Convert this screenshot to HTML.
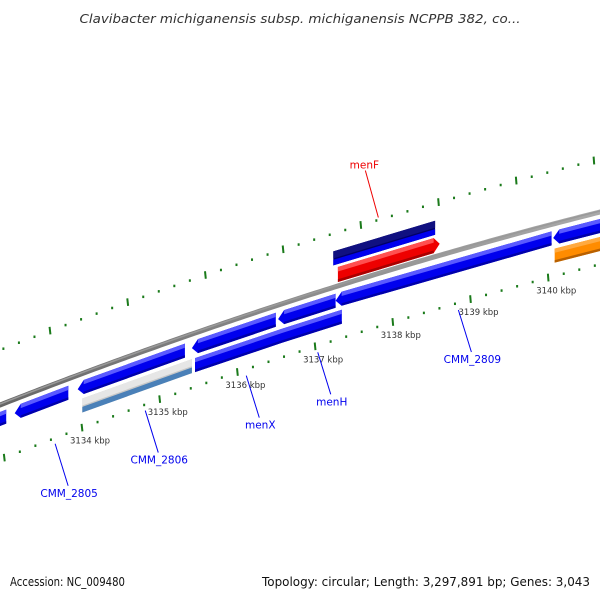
<!DOCTYPE html>
<html><head><meta charset="utf-8"><style>
html,body{margin:0;padding:0;background:#fff;}
svg{display:block;font-family:"DejaVu Sans","Liberation Sans",sans-serif;}
</style></head><body>
<svg id="map" width="600" height="600" viewBox="0 0 600 600" xmlns="http://www.w3.org/2000/svg">
<defs>
<linearGradient id="gray" x1="0" y1="0" x2="0" y2="1"><stop offset="0" stop-color="#aaa"/><stop offset="0.5" stop-color="#888"/><stop offset="1" stop-color="#666"/></linearGradient>
</defs>
<text x="300" y="23" text-anchor="middle" font-size="12.5" font-style="italic" fill="#333" textLength="441" lengthAdjust="spacingAndGlyphs">Clavibacter michiganensis subsp. michiganensis NCPPB 382, co...</text>
<g id="rulers"></g>
<g id="backbone"></g>
<g id="genes"></g>
<g id="labels"></g>
<text x="10" y="586" font-size="12" fill="#111" textLength="115" lengthAdjust="spacingAndGlyphs">Accession: NC_009480</text>
<text x="590" y="586" text-anchor="end" font-size="12" fill="#111" textLength="328" lengthAdjust="spacingAndGlyphs">Topology: circular; Length: 3,297,891 bp; Genes: 3,043</text>
</svg>
<script>
// data
const kbpTicks = [3133, 3134, 3135, 3136, 3137, 3138, 3139, 3140, 3141];
const kbpLabels = ["3133 kbp","3134 kbp","3135 kbp","3136 kbp","3137 kbp","3138 kbp","3139 kbp","3140 kbp","3141 kbp"];
const geneStart = [3132.9, 3133.34, 3134.15, 3135.62, 3136.73, 3137.47, 3140.27, 3134.21, 3135.66, 3136.78, 3140.29, 3137.50, 3137.44];
const geneEnd   = [3133.23, 3134.03, 3135.53, 3136.70, 3137.47, 3140.25, 3141.0, 3135.62, 3136.78, 3137.55, 3141.0, 3138.81, 3138.75];
const geneLane  = [1, 1, 1, 1, 1, 1, 1, 2, 2, 2, 2, -1, -2];
const geneStrand= [-1, -1, -1, -1, -1, -1, -1, 0, 0, 0, 0, 1, 0];
const geneKind  = ["cds","cds","cds","cds","cds","cds","cds","pseudo","cds","cds","orange","red","navy"];
const labelNames = ["menF","CMM_2809","menH","menX","CMM_2806","CMM_2805"];
const labelGene  = [3138.02, 3139.05, 3137.24, 3136.32, 3135.02, 3133.86];

// axis functions
const K0 = 3134, X0 = 66, PX = 77.7;
function xb(k){ return X0 + (k - K0) * PX; }
function yb(x){ return 405 - 0.3917 * x + 1.167e-4 * x * x; }
const NS = "http://www.w3.org/2000/svg";
function mk(tag, attrs, parent){ const e = document.createElementNS(NS, tag); for (const a in attrs) e.setAttribute(a, attrs[a]); parent.appendChild(e); return e; }

// backbone
const bb = document.getElementById('backbone');
let d = "";
for (let x = -5; x <= 605; x += 5) d += (x === -5 ? "M" : "L") + x + "," + yb(x).toFixed(2);
const bl = mk('path', {d: d, fill: "none", stroke: "url(#gray)", "stroke-width": 5}, bb);


const bl2 = mk('path', {d: d, fill: "none", stroke: "#999", "stroke-width": 1.5, transform: "translate(0,-1)"}, bb);



// rulers
const rg = document.getElementById('rulers');
const slopeAt = x => -0.3917 + 2 * 1.167e-4 * x;
function drawRuler(dx, dy, name){
  for (let k = kbpTicks[0] - 1; k <= kbpTicks[kbpTicks.length - 1]; k += 0.2) {
    const kk = Math.round(k * 5) / 5;
    const x = xb(kk) + dx;
    if (x < -5 || x > 605) continue;
    const y = yb(x - dx) + dy;
    const major = Math.abs(kk - Math.round(kk)) < 1e-6;
    if (major) {
      const s = slopeAt(x), n = Math.sqrt(1 + s * s);
      const ux = -s / n * 0.3, uy = 1 / n;
      const t = mk('line', {x1: x - ux * 4, y1: y - uy * 4, x2: x + ux * 4, y2: y + uy * 4, stroke: "#1a7a1a", "stroke-width": 2}, rg);
      
      
    } else {
      const t = mk('rect', {x: x - 1, y: y - 1, width: 2, height: 2.5, fill: "#1a7a1a"}, rg);
      
      
    }
  }
}
drawRuler(-16, -49, 'upper-ruler');
drawRuler(16, 48, 'lower-ruler');
kbpTicks.forEach((k, i) => {
  const x = xb(k) + 16;
  if (x < 12 || x > 590) return;
  const t = mk('text', {x: x - 12, y: yb(x - 16) + 64, "font-size": 8.5, fill: "#333"}, rg);
  t.textContent = kbpLabels[i];
  
  
});

// genes
const gg = document.getElementById('genes');
const laneTop = {"1": 7, "2": 25, "-1": -19, "-2": -36};
const laneH = {"1": 14, "2": 14, "-1": 15, "-2": 14};
const colors = {cds: ["#0000ee", "#5a5aff", "#0000aa"], pseudo: ["#c8c8c8", "#e6e6e6", "#4a80b8"], orange: ["#ff8c00", "#ffaa40", "#b86000"], red: ["#ee0000", "#ff5050", "#aa0000"], navy: ["#000066", "#101080", "#0000ee"]};
geneStart.forEach((s, i) => {
  const e = geneEnd[i];
  const x1 = xb(s), x2 = xb(e);
  const t = laneTop[geneLane[i]], h = laneH[geneLane[i]];
  const c = colors[geneKind[i]];
  const pts = [];
  const tip = 6, str = geneStrand[i];
  const yT = x => yb(x) + t, yB = x => yb(x) + t + h;
  if (str === -1) {
    pts.push([x1, yT(x1) + h / 2], [x1 + tip, yT(x1 + tip)], [x2, yT(x2)], [x2, yB(x2)], [x1 + tip, yB(x1 + tip)]);
  } else if (str === 1) {
    pts.push([x1, yT(x1)], [x2 - tip, yT(x2 - tip)], [x2, yT(x2) + h / 2], [x2 - tip, yB(x2 - tip)], [x1, yB(x1)]);
  } else {
    pts.push([x1, yT(x1)], [x2, yT(x2)], [x2, yB(x2)], [x1, yB(x1)]);
  }
  const p = mk('polygon', {points: pts.map(q => q[0].toFixed(1) + "," + q[1].toFixed(1)).join(" "), fill: c[0]}, gg);
  
  
  const a = str === -1 ? x1 + tip : x1, b = str === 1 ? x2 - tip : x2;
  const hh = geneKind[i] === "pseudo" || geneKind[i] === "navy" ? h * 0.5 : h * 0.3;
  const hp = mk('polygon', {points: [[a, yT(a)], [b, yT(b)], [b, yT(b) + hh], [a, yT(a) + hh]].map(q => q[0].toFixed(1) + "," + q[1].toFixed(1)).join(" "), fill: c[1]}, gg);
  
  
  const bh = geneKind[i] === "pseudo" || geneKind[i] === "navy" ? h * 0.4 : h * 0.18;
  const bp = mk('polygon', {points: [[a, yB(a) - bh], [b, yB(b) - bh], [b, yB(b)], [a, yB(a)]].map(q => q[0].toFixed(1) + "," + q[1].toFixed(1)).join(" "), fill: c[2]}, gg);
  
  
});

// labels
const lg = document.getElementById('labels');
labelNames.forEach((n, i) => {
  const x = xb(labelGene[i]);
  const up = n === "menF";
  const col = up ? "#ee0000" : "#0000ee";
  let x1, y1, x2, y2, tx, ty;
  if (up) { x1 = x; y1 = yb(x) - 56; x2 = x - 13; y2 = yb(x) - 103; tx = x2 - 1; ty = y2 - 2; }
  else { x1 = x; y1 = yb(x) + 60; x2 = x + 13; y2 = yb(x) + 102; tx = x2 + 1; ty = y2 + 11; }
  const l = mk('line', {x1: x1, y1: y1, x2: x2, y2: y2, stroke: col, "stroke-width": 1}, lg);
  
  
  const t = mk('text', {x: tx, y: ty, "text-anchor": "middle", "font-size": 10.5, fill: col}, lg);
  t.textContent = n;
  
  
});
</script>
</body></html>
